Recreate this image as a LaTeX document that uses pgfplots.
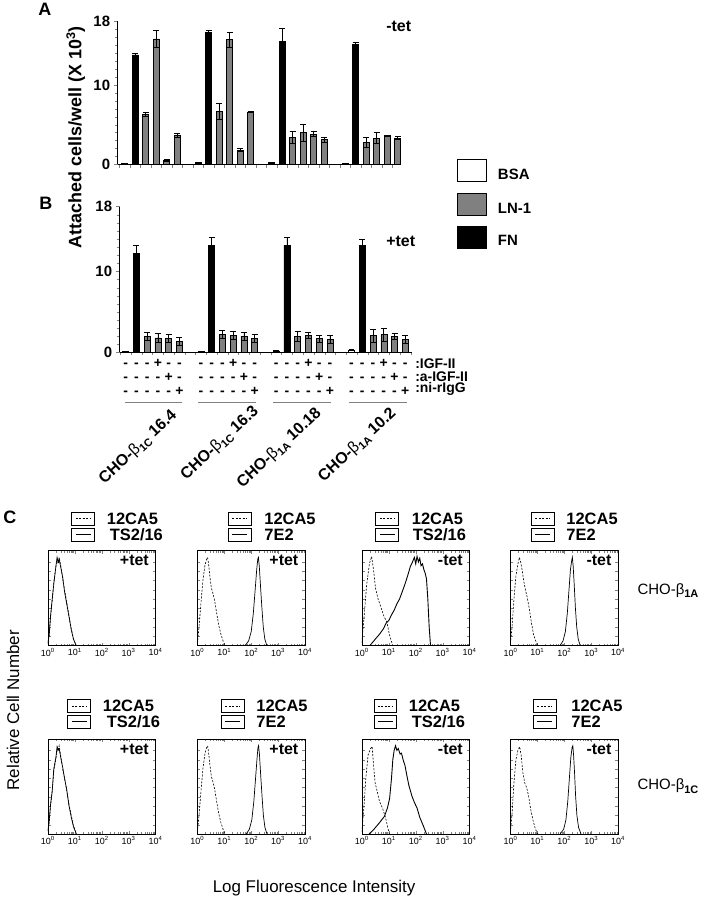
\documentclass[border=0pt]{standalone}
\usepackage{fontspec}
\setmainfont{Liberation Sans}
\usepackage{pgfplots}
\pgfplotsset{compat=1.18}
\definecolor{lngray}{RGB}{128,128,128}
\newcommand\fs[1]{\fontsize{#1}{#1}\selectfont}
\newcommand\sub[1]{\raisebox{-0.4ex}{\fs{11}#1}}
\newcommand\st[3]{\strut#1\\\strut#2\\\strut#3}
\newcommand\dec[1]{10\textsuperscript{#1}}

% two-line key above each histogram: x, y, second label, text offsets
\newcommand\histleg[5]{%
  \draw[line width=0.7pt] (#1,-#2) rectangle ++(23,-13);
  \draw[line width=0.6pt, dash pattern=on 2pt off 1.5pt] (#1+4,-#2-6.5) -- ++(15,0);
  \draw[line width=0.7pt] (#1,-#2-16) rectangle ++(23,-13);
  \draw[line width=0.7pt] (#1+4,-#2-22.5) -- ++(15,0);
  \node[anchor=west, inner sep=0pt, font=\fs{16.5}\bfseries] at (#1+#4,-#2-6.5) {12CA5};
  \node[anchor=west, inner sep=0pt, font=\fs{16.5}\bfseries] at (#1+#5,-#2-22.5) {#3};
}

\pgfplotsset{bars/.style={
    scale only axis, ymin=0, ymax=18,
    axis x line*=bottom, axis y line*=left,
    axis line style={line width=0.6pt},
    ytick={0,10,18}, minor ytick={1,...,9,11,12,...,17},
    tick align=outside, major tick length=4pt, minor tick length=2.5pt,
    yticklabel style={font=\fs{15}\bfseries},
    /pgf/number format/assume math mode=true,
    ybar, bar width=6pt}}
\pgfplotsset{bs/.style={bar shift=0pt, draw=black, line width=0.5pt, fill=#1,
    error bars/y dir=both, error bars/y explicit,
    error bars/error bar style={black, line width=0.6pt},
    error bars/error mark options={rotate=90, mark size=3pt, black, line width=0.6pt}}}
\pgfplotsset{hax/.style={
    scale only axis, width=108pt, height=95pt,
    xmin=1, xmax=10000, ymin=0, ymax=1.02,
    ytick={0.1,0.2,0.3,0.4,0.5,0.6,0.7,0.8,0.9}, yticklabels={},
    xtick={1,10,100,1000,10000},
    xticklabels={\dec{0},\dec{1},\dec{2},\dec{3},\dec{4}},
    xticklabel style={font=\fs{9}, yshift=1pt},
    major tick length=3pt, minor tick length=2pt,
    axis line style={line width=0.7pt}}}
\tikzset{dsh/.style={black, dash pattern=on 2pt off 1.5pt, line width=0.6pt},
  sld/.style={black, line width=0.7pt}}

\begin{document}
\begin{tikzpicture}[x=1pt,y=1pt]
\path (0,0) rectangle (702,-899);

% ---------- panel A ----------
\begin{axis}[bars, at={(118pt,-164.3pt)}, anchor=south west,
  width=284pt, height=143.3pt, xmin=-0.66, xmax=26.3,
  xtick={-0.5,0.5,...,26.5}, xticklabels={}]
\addplot[bs=white] coordinates {(0,0.1) +- (0,0.05) (7,0.2) +- (0,0.05) (14,0.2) +- (0,0.05) (21,0.1) +- (0,0.05)};
\addplot[bs=black] coordinates {(1,13.8) +- (0,0.2) (8,16.6) +- (0,0.3) (15,15.5) +- (0,1.7) (22,15.1) +- (0,0.3)};
\addplot[bs=lngray] coordinates {
 (2,6.3) +- (0,0.3) (3,15.8) +- (0,1.1) (4,0.5) +- (0,0.15) (5,3.7) +- (0,0.25)
 (9,6.7) +- (0,1.0) (10,15.7) +- (0,0.9) (11,1.8) +- (0,0.2) (12,6.6) +- (0,0.05)
 (16,3.4) +- (0,0.7) (17,4.0) +- (0,1.1) (18,3.8) +- (0,0.3) (19,3.1) +- (0,0.3)
 (23,2.8) +- (0,0.6) (24,3.3) +- (0,0.7) (25,3.6) +- (0,0.05) (26,3.3) +- (0,0.2)};
\end{axis}

% ---------- panel B ----------
\begin{axis}[bars, at={(120pt,-353pt)}, anchor=south west,
  width=293pt, height=146.3pt, xmin=-0.56, xmax=26.6,
  xtick={0,1,2,3,4,5,7,8,9,10,11,12,14,15,16,17,18,19,21,22,23,24,25,26},
  xticklabels={{\st---},{\st---},{\st---},{\st+--},{\st-+-},{\st--+},
               {\st---},{\st---},{\st---},{\st+--},{\st-+-},{\st--+},
               {\st---},{\st---},{\st---},{\st+--},{\st-+-},{\st--+},
               {\st---},{\st---},{\st---},{\st+--},{\st-+-},{\st--+}},
  xticklabel style={font=\fs{14}\bfseries, align=center, inner sep=0pt, yshift=-1pt},
  every major x tick/.append style={draw=none},
  minor xtick={-0.5,0.5,...,26.5}]
\addplot[bs=white] coordinates {(0,0.15) +- (0,0.05) (7,0.15) +- (0,0.05) (14,0.2) +- (0,0.05) (21,0.3) +- (0,0.05)};
\addplot[bs=black] coordinates {(1,12.2) +- (0,1.0) (8,13.2) +- (0,1.0) (15,13.2) +- (0,1.0) (22,13.2) +- (0,0.8)};
\addplot[bs=lngray] coordinates {
 (2,2.0) +- (0,0.5) (3,1.8) +- (0,0.6) (4,1.7) +- (0,0.5) (5,1.4) +- (0,0.5)
 (9,2.2) +- (0,0.5) (10,2.1) +- (0,0.5) (11,2.0) +- (0,0.5) (12,1.7) +- (0,0.5)
 (16,2.0) +- (0,0.6) (17,2.1) +- (0,0.4) (18,1.7) +- (0,0.4) (19,1.6) +- (0,0.5)
 (23,2.1) +- (0,0.8) (24,2.2) +- (0,0.8) (25,2.0) +- (0,0.4) (26,1.6) +- (0,0.5)};
\end{axis}

% labels of panels A and B
\node[font=\fs{18}\bfseries] at (45,-9) {A};
\node[font=\fs{18}\bfseries] at (46,-203) {B};
\node[font=\fs{18}\bfseries] at (10,-518) {C};
\node[rotate=90, font=\fs{18}\bfseries] at (76,-137) {Attached cells/well (X 10\textsuperscript{3})};
\node[anchor=west, font=\fs{16}\bfseries] at (384,-26) {-tet};
\node[anchor=west, font=\fs{16}\bfseries] at (384,-242) {+tet};

\draw[line width=0.7pt, fill=white] (459,-159) rectangle (488,-181);
\draw[line width=0.7pt, fill=lngray] (459,-193) rectangle (488,-215);
\draw[line width=0.7pt, fill=black] (459,-227) rectangle (488,-249);
\node[anchor=west, font=\fs{15}\bfseries] at (496,-174) {BSA};
\node[anchor=west, font=\fs{15}\bfseries] at (496,-208) {LN-1};
\node[anchor=west, font=\fs{15}\bfseries] at (496,-241) {FN};

\node[anchor=west, font=\fs{14}\bfseries] at (413,-364) {:IGF-II};
\node[anchor=west, font=\fs{14}\bfseries] at (413,-377) {:a-IGF-II};
\node[anchor=west, font=\fs{14}\bfseries] at (413,-390) {:ni-rIgG};

\draw[gray, line width=1pt] (125,-403) -- (183,-403);
\draw[gray, line width=1pt] (199,-403) -- (257,-403);
\draw[gray, line width=1pt] (274,-403) -- (332,-403);
\draw[gray, line width=1pt] (350,-403) -- (408,-403);

\node[rotate=43, anchor=north east, inner sep=1pt, font=\fs{16}\bfseries] at (170,-407) {CHO-{\mdseries β}\sub{1C} 16.4};
\node[rotate=43, anchor=north east, inner sep=1pt, font=\fs{16}\bfseries] at (252,-403) {CHO-{\mdseries β}\sub{1C} 16.3};
\node[rotate=43, anchor=north east, inner sep=1pt, font=\fs{16}\bfseries] at (315,-405) {CHO-{\mdseries β}\sub{1A} 10.18};
\node[rotate=43, anchor=north east, inner sep=1pt, font=\fs{16}\bfseries] at (390,-405) {CHO-{\mdseries β}\sub{1A} 10.2};

% ---------- panel C, row 1 (CHO-b1A) ----------
\begin{axis}[hax, xmode=log, at={(48pt,-647pt)}, anchor=south west]
\addplot[dsh] coordinates {(1,0.02) (1.12,0.1) (1.26,0.3) (1.45,0.48) (1.66,0.68) (2.0,0.85) (2.29,0.93) (2.45,0.88) (2.63,0.95) (3.02,0.86) (3.55,0.72) (4.17,0.6) (5.01,0.47) (6.03,0.33) (7.41,0.18) (8.91,0.08) (11.2,0)};
\addplot[sld] coordinates {(1,0.02) (1.12,0.12) (1.26,0.32) (1.45,0.5) (1.66,0.66) (2.0,0.86) (2.2,0.95) (2.4,0.9) (2.63,0.93) (3.02,0.84) (3.55,0.74) (4.17,0.58) (5.01,0.45) (6.03,0.32) (7.41,0.17) (8.91,0.07) (11.2,0)};
\node[anchor=north east, font=\fs{16}\bfseries] at (rel axis cs:0.97,0.99) {+tet};
\end{axis}
\begin{axis}[hax, xmode=log, at={(198pt,-647pt)}, anchor=south west]
\addplot[dsh] coordinates {(1,0.02) (1.15,0.2) (1.35,0.45) (1.6,0.7) (1.9,0.86) (2.2,0.93) (2.4,0.95) (2.6,0.88) (2.9,0.75) (3.3,0.62) (3.8,0.56) (4.4,0.48) (5.2,0.35) (6.2,0.22) (7.5,0.12) (9,0.05) (10.5,0)};
\addplot[sld] coordinates {(60,0) (80,0.05) (100,0.15) (120,0.35) (140,0.6) (160,0.82) (175,0.93) (185,0.95) (200,0.85) (220,0.65) (250,0.4) (280,0.2) (320,0.07) (380,0)};
\node[anchor=north east, font=\fs{16}\bfseries] at (rel axis cs:0.97,0.99) {+tet};
\end{axis}
\begin{axis}[hax, xmode=log, at={(363pt,-647pt)}, anchor=south west]
\addplot[dsh] coordinates {(1,0.03) (1.2,0.3) (1.5,0.65) (1.9,0.88) (2.3,0.96) (2.7,0.82) (3.2,0.62) (4,0.5) (5,0.42) (6.5,0.32) (8.5,0.25) (10.5,0.12) (14,0)};
\addplot[sld, line width=0.9pt] coordinates {(2.0,0) (3.16,0.07) (4.47,0.12) (6.3,0.18) (7.9,0.24) (10,0.27) (12.6,0.33) (15.8,0.38) (20,0.45) (25,0.5) (31.6,0.58) (39.8,0.66) (50,0.75) (63,0.85) (76,0.9) (89,0.95) (100,0.88) (112,0.96) (126,0.9) (141,0.94) (158,0.86) (178,0.88) (200,0.82) (224,0.78) (251,0.72) (282,0.5) (316,0.2) (355,0)};
\node[anchor=north east, font=\fs{16}\bfseries] at (rel axis cs:0.97,0.99) {-tet};
\end{axis}
\begin{axis}[hax, xmode=log, at={(512pt,-647pt)}, anchor=south west]
\addplot[dsh] coordinates {(1,0.02) (1.15,0.2) (1.35,0.5) (1.6,0.75) (1.9,0.88) (2.15,0.95) (2.4,0.9) (2.7,0.82) (3.1,0.7) (3.6,0.6) (4.2,0.52) (5,0.4) (6,0.25) (7.2,0.12) (8.7,0.05) (10.5,0)};
\addplot[sld] coordinates {(70,0) (90,0.05) (110,0.15) (130,0.35) (150,0.6) (170,0.82) (190,0.92) (200,0.95) (215,0.85) (235,0.65) (260,0.4) (290,0.2) (330,0.07) (390,0)};
\node[anchor=north east, font=\fs{16}\bfseries] at (rel axis cs:0.97,0.99) {-tet};
\end{axis}

% ---------- panel C, row 2 (CHO-b1C) ----------
\begin{axis}[hax, xmode=log, at={(48pt,-836pt)}, anchor=south west]
\addplot[dsh] coordinates {(1,0.03) (1.12,0.12) (1.26,0.3) (1.45,0.46) (1.66,0.68) (2.0,0.81) (2.29,0.93) (2.45,0.9) (2.63,0.95) (3.02,0.84) (3.55,0.7) (4.17,0.6) (5.01,0.47) (6.03,0.33) (7.41,0.2) (8.91,0.09) (11.5,0)};
\addplot[sld] coordinates {(1,0.03) (1.12,0.14) (1.26,0.32) (1.45,0.46) (1.66,0.7) (2.0,0.83) (2.2,0.94) (2.4,0.9) (2.63,0.92) (3.02,0.82) (3.55,0.72) (4.17,0.6) (5.01,0.48) (6.03,0.31) (7.41,0.18) (8.91,0.08) (11.5,0)};
\node[anchor=north east, font=\fs{16}\bfseries] at (rel axis cs:0.97,0.99) {+tet};
\end{axis}
\begin{axis}[hax, xmode=log, at={(198pt,-836pt)}, anchor=south west]
\addplot[dsh] coordinates {(1,0.02) (1.15,0.2) (1.35,0.45) (1.6,0.7) (1.9,0.86) (2.2,0.93) (2.4,0.95) (2.6,0.88) (2.9,0.75) (3.3,0.62) (3.8,0.56) (4.4,0.48) (5.2,0.35) (6.2,0.22) (7.5,0.12) (9,0.05) (10.5,0)};
\addplot[sld] coordinates {(65,0) (85,0.05) (105,0.15) (125,0.35) (145,0.6) (165,0.82) (178,0.93) (188,0.95) (203,0.85) (223,0.65) (253,0.4) (283,0.2) (323,0.07) (385,0)};
\node[anchor=north east, font=\fs{16}\bfseries] at (rel axis cs:0.97,0.99) {+tet};
\end{axis}
\begin{axis}[hax, xmode=log, at={(363pt,-836pt)}, anchor=south west]
\addplot[dsh] coordinates {(1,0.02) (1.2,0.3) (1.4,0.6) (1.7,0.85) (2.1,0.92) (2.4,0.94) (2.7,0.75) (3.1,0.55) (3.7,0.46) (4.5,0.35) (5.8,0.28) (7.5,0.18) (9,0.08) (10.5,0)};
\addplot[sld, line width=0.9pt] coordinates {(1.86,0) (2.8,0.05) (4.47,0.12) (6.9,0.19) (8.9,0.28) (10.7,0.38) (12.6,0.6) (14.1,0.8) (15.8,0.9) (17.8,0.95) (20,0.9) (22.4,0.92) (26.3,0.86) (29.5,0.87) (35.5,0.78) (39.8,0.74) (46.8,0.63) (56,0.52) (72,0.41) (89,0.34) (112,0.28) (141,0.18) (190,0.09) (251,0)};
\node[anchor=north east, font=\fs{16}\bfseries] at (rel axis cs:0.97,0.99) {-tet};
\end{axis}
\begin{axis}[hax, xmode=log, at={(512pt,-836pt)}, anchor=south west]
\addplot[dsh] coordinates {(1,0.02) (1.15,0.22) (1.35,0.55) (1.6,0.8) (1.9,0.9) (2.2,0.94) (2.5,0.85) (2.9,0.66) (3.4,0.55) (4,0.5) (4.8,0.4) (5.7,0.26) (7,0.14) (8.5,0.05) (10.5,0)};
\addplot[sld] coordinates {(70,0) (95,0.05) (115,0.15) (135,0.35) (155,0.6) (175,0.82) (195,0.93) (208,0.95) (222,0.85) (242,0.65) (265,0.4) (295,0.2) (340,0.07) (420,0)};
\node[anchor=north east, font=\fs{16}\bfseries] at (rel axis cs:0.97,0.99) {-tet};
\end{axis}

% keys and titles of panel C
\histleg{72}{513}{TS2/16}{35}{38}
\histleg{229}{513}{7E2}{36}{36}
\histleg{377}{513}{TS2/16}{36}{37}
\histleg{533}{513}{7E2}{35}{35}
\histleg{68}{701}{TS2/16}{35}{39}
\histleg{222}{701}{7E2}{35}{35}
\histleg{375}{701}{TS2/16}{35}{38}
\histleg{535}{701}{7E2}{38}{38}

\node[anchor=west, font=\fs{15}] at (636,-592) {CHO-β\sub{\bfseries 1A}};
\node[anchor=west, font=\fs{15}] at (636,-788) {CHO-β\sub{\bfseries 1C}};
\node[rotate=90, font=\fs{17}] at (13,-712) {Relative Cell Number};
\node[font=\fs{17}] at (315,-890) {Log Fluorescence Intensity};
\end{tikzpicture}
\end{document}
